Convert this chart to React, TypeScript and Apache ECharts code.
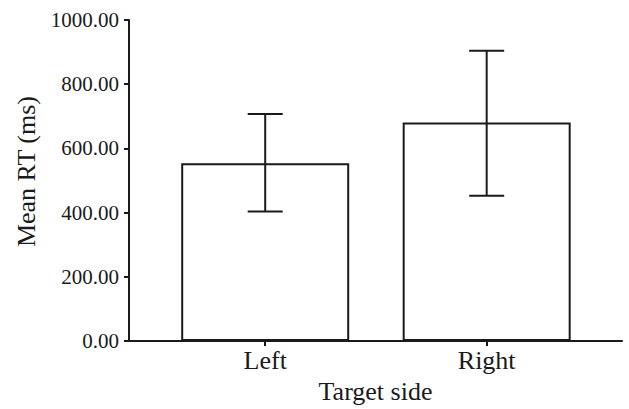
import React, { useEffect, useRef } from "react";
import * as echarts from "echarts";

const categories = ["Left", "Right"];
const means = [554, 681];
const errLow = [404, 453];
const errHigh = [707, 904];
const yTicks = [0, 200, 400, 600, 800, 1000];

export default function App() {
  const ref = useRef<HTMLDivElement>(null);
  useEffect(() => {
    const chart = echarts.init(ref.current!, null, { renderer: "svg" });
    const font = "'Liberation Serif', 'Times New Roman', serif";
    const ink = "#1a1a1a";
    chart.setOption({
      animation: false,
      backgroundColor: "#ffffff",
      grid: { left: 129, right: 7, top: 20, bottom: 64 },
      xAxis: {
        type: "value",
        min: -0.615,
        max: 1.611,
        name: "Target side",
        nameLocation: "middle",
        nameGap: 35,
        nameTextStyle: { fontFamily: font, fontSize: 26, color: ink },
        axisLine: { show: true, onZero: false, lineStyle: { color: ink, width: 2 } },
        axisTick: { show: true, length: 5, customValues: [0, 1], lineStyle: { color: ink, width: 2 } },
        axisLabel: {
          customValues: [0, 1],
          margin: 6,
          fontFamily: font,
          fontSize: 26,
          color: ink,
          formatter: (v: number) => categories[Math.round(v)] ?? "",
        },
        splitLine: { show: false },
      },
      yAxis: {
        type: "value",
        min: yTicks[0],
        max: yTicks[yTicks.length - 1],
        interval: 200,
        name: "Mean RT (ms)",
        nameLocation: "middle",
        nameGap: 89,
        nameTextStyle: { fontFamily: font, fontSize: 26, color: ink, padding: [0, 0, 0, 18] },
        axisLine: { show: true, onZero: false, lineStyle: { color: ink, width: 2 } },
        axisTick: { show: true, length: 5, lineStyle: { color: ink, width: 2 } },
        axisLabel: {
          margin: 10,
          fontFamily: font,
          fontSize: 21,
          color: ink,
          formatter: (v: number) => v.toFixed(2),
        },
        splitLine: { show: false },
      },
      series: [
        {
          type: "bar",
          data: means.map((m, i) => [i, m]),
          barWidth: 168,
          itemStyle: { color: "#ffffff", borderColor: ink, borderWidth: 2 },
          z: 2,
        },
        {
          type: "custom",
          z: 3,
          data: categories.map((_, i) => [i, errLow[i], errHigh[i]]),
          renderItem: (params: any, api: any) => {
            const x = api.value(0);
            const lo = api.coord([x, api.value(1)]);
            const hi = api.coord([x, api.value(2)]);
            const hw = 17.5;
            const style = { stroke: ink, lineWidth: 2 };
            return {
              type: "group",
              children: [
                { type: "line", shape: { x1: lo[0], y1: lo[1], x2: hi[0], y2: hi[1] }, style },
                { type: "line", shape: { x1: hi[0] - hw, y1: hi[1], x2: hi[0] + hw, y2: hi[1] }, style },
                { type: "line", shape: { x1: lo[0] - hw, y1: lo[1], x2: lo[0] + hw, y2: lo[1] }, style },
              ],
            };
          },
        },
      ],
    });
    return () => chart.dispose();
  }, []);
  return (
    <div
      ref={ref}
      style={{ position: "fixed", left: 0, top: 0, width: 629, height: 409, background: "#fff" }}
    />
  );
}
